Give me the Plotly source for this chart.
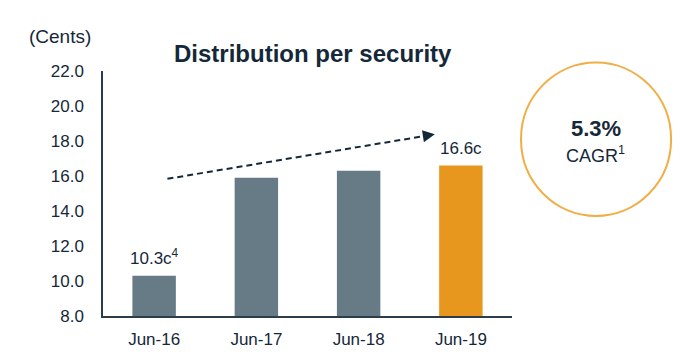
import plotly.graph_objects as go

categories = ["Jun-16", "Jun-17", "Jun-18", "Jun-19"]
values = [10.3, 15.9, 16.3, 16.6]
bar_colors = ["#667b85", "#667b85", "#667b85", "#e8971e"]
bar_labels = ["10.3c<sup>4</sup>", "", "", "16.6c"]
tick_vals = [8, 10, 12, 14, 16, 18, 20, 22]
cagr_value = "5.3%"
cagr_label = "CAGR<sup>1</sup>"

DARK = "#15283a"
FONT = "Liberation Sans, Arial, sans-serif"

fig = go.Figure()
fig.add_trace(go.Bar(
    x=categories, y=values, marker=dict(color=bar_colors, line=dict(width=0)),
    hoverinfo="skip",
))

annotations = []
for c, v, t in zip(categories, values, bar_labels):
    if t:
        annotations.append(dict(x=c, y=v, xref="x", yref="y", text=t, showarrow=False,
                                xanchor="center", yanchor="bottom", yshift=6,
                                font=dict(family=FONT, size=17, color=DARK)))

# dashed trend arrow
x_start, y_start = 0.13, 15.84
x_end, y_end = 2.745, 18.38
fig.add_shape(type="line", xref="x", yref="y", x0=x_start, y0=y_start,
              x1=x_end - 0.06, y1=y_end - 0.055,
              line=dict(color=DARK, width=2, dash="6px,4px"))
annotations.append(dict(x=x_end, y=y_end, xref="x", yref="y", ax=x_end - 0.12, ay=y_end - 0.11,
                        axref="x", ayref="y", text="", showarrow=True, arrowhead=2,
                        arrowsize=1.2, arrowwidth=2, arrowcolor=DARK))

annotations += [
    dict(x=-0.106, y=1.139, xref="paper", yref="paper", text="(Cents)", showarrow=False,
         xanchor="center", yanchor="middle",
         font=dict(family=FONT, size=19, color=DARK)),
    dict(x=0.514, y=1.07, xref="paper", yref="paper", text="<b>Distribution per security</b>",
         showarrow=False, xanchor="center", yanchor="middle",
         font=dict(family=FONT, size=24, color=DARK)),
    dict(x=1.205, y=0.766, xref="paper", yref="paper", text="<b>" + cagr_value + "</b>",
         showarrow=False, xanchor="center", yanchor="middle",
         font=dict(family=FONT, size=22, color=DARK)),
    dict(x=1.205, y=0.660, xref="paper", yref="paper", text=cagr_label,
         showarrow=False, xanchor="center", yanchor="middle",
         font=dict(family=FONT, size=18, color=DARK)),
]

fig.add_shape(type="circle", xref="paper", yref="paper", x0=1.022, x1=1.389, y0=0.408, y1=1.035,
              line=dict(color="#f0ae45", width=2))

fig.update_layout(
    width=682, height=354, margin=dict(l=103, r=170, t=71, b=38, autoexpand=False),
    paper_bgcolor="white", plot_bgcolor="white", showlegend=False,
    bargap=0.575, annotations=annotations,
    font=dict(family=FONT, size=17, color=DARK),
)
fig.update_xaxes(range=[-0.5, 3.5], showline=True, linecolor="#2b3d4a", linewidth=1.5,
                 showgrid=False, ticks="", ticklabelstandoff=7, automargin=False,
                 tickfont=dict(family=FONT, size=17, color=DARK))
fig.update_yaxes(range=[8, 22], tickvals=tick_vals, tickformat=".1f", showline=True,
                 linecolor="#2b3d4a", linewidth=1.5, showgrid=False, zeroline=False,
                 ticks="", ticklabelstandoff=14, automargin=False,
                 tickfont=dict(family=FONT, size=17, color=DARK))

fig.write_html("out.html")
